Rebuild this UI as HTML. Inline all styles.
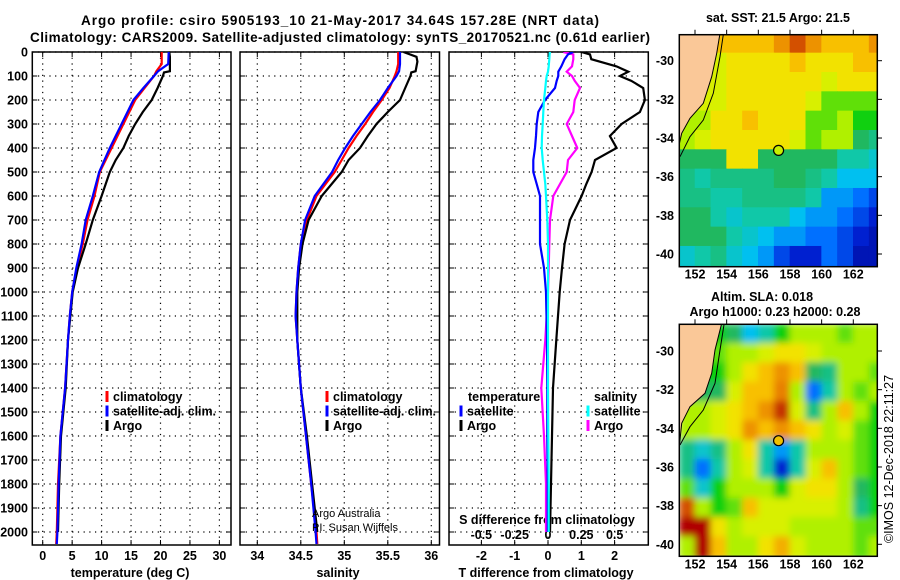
<!DOCTYPE html>
<html><head><meta charset="utf-8"><style>
html,body{margin:0;padding:0;background:#fff;}
svg{display:block;font-family:"Liberation Sans",sans-serif;font-weight:bold;}
</style></head><body>
<svg id="c" width="900" height="580" viewBox="0 0 900 580">
<defs>
<clipPath id="cp1"><rect x="32.3" y="52" width="198.7" height="493"/></clipPath>
<clipPath id="cp2"><rect x="240" y="52" width="199.5" height="493"/></clipPath>
<clipPath id="cp3"><rect x="449" y="52" width="199.3" height="493"/></clipPath>
<clipPath id="cpm1"><rect x="679.3" y="34.7" width="198" height="232"/></clipPath>
<clipPath id="cpm2"><rect x="679.3" y="324.3" width="198" height="232.4"/></clipPath>
<filter id="blur" x="0" y="0" width="1" height="1"><feGaussianBlur stdDeviation="3.5" edgeMode="duplicate"/></filter>
</defs>
<text x="340" y="25" text-anchor="middle" font-size="13.5" textLength="518">Argo profile: csiro 5905193_10 21-May-2017 34.64S 157.28E (NRT data)</text>
<text x="340" y="42" text-anchor="middle" font-size="13.5" textLength="620">Climatology: CARS2009. Satellite-adjusted climatology: synTS_20170521.nc (0.61d earlier)</text>
<g id="g"></g>
</svg>
<script>
// ---------- profile data ----------
const depths=[0,50,80,100,150,200,250,300,350,400,450,500,600,700,800,900,1000,1100,1200,1400,1600,1800,2000,2050];
const tempClim=[20.2,20.2,19.3,18.9,17.3,15.7,14.7,13.7,12.7,11.7,10.7,9.7,8.8,7.6,6.8,5.8,5.0,4.6,4.3,3.8,3.0,2.6,2.4,2.3];
const tempSat=[21.4,21.3,19.6,18.9,17.1,15.4,14.4,13.4,12.4,11.4,10.5,9.6,8.5,7.3,6.6,5.7,5.0,4.6,4.3,3.8,3.0,2.7,2.5,2.4];
const argoDepths=[0,20,40,80,85,100,150,200,250,300,350,400,450,500,600,700,800,900,1000,1200,1400,1600,1800,2000];
const tempArgo=[21.5,21.6,21.6,21.6,20.6,20.4,19.5,18.5,17.0,15.7,14.6,13.7,12.4,11.4,10.0,8.5,7.3,6.0,5.1,4.3,3.9,3.1,2.8,2.6];
const salClim=[35.62,35.62,35.6,35.58,35.52,35.43,35.33,35.24,35.14,35.05,34.97,34.89,34.68,34.57,34.50,34.47,34.45,34.44,34.46,34.50,34.56,34.62,34.68,34.69];
const salSat=[35.64,35.64,35.63,35.6,35.5,35.41,35.30,35.20,35.10,35.01,34.93,34.86,34.66,34.55,34.50,34.47,34.45,34.44,34.46,34.50,34.56,34.62,34.67,34.68];
const salArgo=[35.68,35.83,35.84,35.82,35.77,35.76,35.70,35.64,35.50,35.37,35.27,35.18,35.05,34.97,34.74,34.59,34.52,34.48,34.46,34.46,34.50,34.57,34.63,34.69];
const diffDepths=[0,10,30,60,82,100,120,150,200,250,300,350,400,450,500,550,600,700,800,900,1000,1200,1400,1600,1800,2000];
const dTArgo=[1.0,1.26,1.3,2.06,2.41,2.16,2.5,2.86,2.91,2.76,2.21,1.86,2.06,1.41,1.31,1.15,1.01,0.66,0.5,0.42,0.35,0.25,0.15,0.12,0.09,0.06];
const dTSat=[0.75,0.6,0.5,0.4,0.31,0.31,0.26,0.21,-0.09,-0.29,-0.34,-0.36,-0.39,-0.44,-0.44,-0.34,-0.24,-0.24,-0.24,-0.12,-0.06,-0.03,-0.02,-0.02,-0.01,-0.01];
const dSSat=[0.015,0.012,0.01,0.005,0,-0.01,-0.015,-0.02,-0.03,-0.035,-0.04,-0.045,-0.047,-0.04,-0.03,-0.02,-0.015,-0.005,0,0,0,0,0,0.002,0.005,0.005];
const dSArgo=[0.115,0.19,0.19,0.18,0.14,0.18,0.2,0.24,0.20,0.19,0.14,0.18,0.22,0.15,0.14,0.09,0.04,0.015,0.01,0.005,0,-0.02,-0.05,-0.03,-0.015,-0.015];
// tick labels
const depthTicks=[0,100,200,300,400,500,600,700,800,900,1000,1100,1200,1300,1400,1500,1600,1700,1800,1900,2000];
const tempTicks=[0,5,10,15,20,25,30];
const salTicks=[34,34.5,35,35.5,36];
const dTTicks=[-2,-1,0,1,2];
const dSTicks=[-0.5,-0.25,0,0.25,0.5];
const dSTickLabels=["-0.5","-0.25","0","0.25","0.5"];
const lonTicks=[152,154,156,158,160,162];
const latTicks=[-30,-32,-34,-36,-38,-40];
// ---------- map data (1-degree cells, rows from -28.6S southward, cols from 151E) ; -1 = land ----------
const sstGrid=[
[-1,-1,-1,8.5,8.5,8.5,9,9.5,9,8.5,8.5,8.5,9],
[-1,-1,7.5,8,8,8,8,8.5,8,8,8,8.5,8.5],
[-1,-1,7.5,8,8,8,8,8,8,7.5,8,8,8],
[-1,-1,7.5,8,8,8,8,8,7.5,6.5,6.5,6.5,6.5],
[-1,7,8,8,8.5,8,8,8,6.5,6.5,7,6,6],
[7,7.5,8,8,8,8,8,7.5,6.5,7,7,5.5,5],
[5.5,5.5,5.5,8,8,5.5,5.5,5.5,5.5,5.5,4.5,4.5,4],
[5,4.5,5,5,5,5,5.5,5.5,5,4.5,3.5,3.5,3.5],
[5,5,4.5,4.5,5,5,5,5,4.5,3,3,2.5,2],
[5.5,5.5,4.5,4,4.5,4.5,4.5,3.5,3,3,2.5,2,1.5],
[5.5,5.5,5.5,4.5,4,3.5,3,3,2.5,2.5,2,1.5,1],
[4,4.5,5,4,3.5,3,2,1.5,1.5,2.5,2,1,1]];
const slaGrid=[
[-1,-1,6,5.5,3.5,4.5,6,7,7,7,6.5,7,7],
[-1,-1,6.5,7,7,7.5,8,8,7.5,7,7,7,7],
[-1,-1,6,7,8,8.5,9,8.5,5.5,5,7,7,6.5],
[-1,-1,5.5,7.5,8.5,8.5,9.2,7,2.5,4.5,7,6.5,7],
[-1,7,7.5,8,8.5,9,9.7,7.5,5,7,8.5,7,6],
[7,7,7.5,8,9,8.5,9,8.5,8,7,7.5,6.5,6],
[5,4,5,7,8,4.5,3,4.5,7,7,7,6.5,6],
[5,2.5,4.5,7,7.5,4.5,1.5,4.5,7.5,8.5,7,6.5,6],
[6.5,4,6,7,7,7,6,7.5,8,8,7,5.5,6],
[9.5,7,6,6.5,8.5,7.5,7.5,7.5,7.5,7.5,7,5,6],
[10,10,8,7,7.5,7.5,7.5,7,7,7,7,6.5,6.5],
[7,10,8.5,7,7,8,8.7,7.5,7,7,7,6.5,7]];
const floatLon=157.28, floatLat=-34.64;

const NS='http://www.w3.org/2000/svg';
const G=document.getElementById('g');
function mk(tag,attrs,parent){const e=document.createElementNS(NS,tag);for(const k in attrs)e.setAttribute(k,attrs[k]);(parent||G).appendChild(e);return e;}
function txt(x,y,s,size,anchor,parent){const t=mk('text',{x:x,y:y,'font-size':size,'text-anchor':anchor||'start'},parent);t.textContent=s;return t;}

const yD=d=>52+d*0.24;
const xT=t=>42.7+t*5.89;
const xS=s=>257.3+(s-34)*87;
const xdT=t=>548+t*33.3;
const xdS=s=>548+s*133.3;
const panels=[{x0:32.3,x1:231,clip:'cp1'},{x0:240,x1:439.5,clip:'cp2'},{x0:449,x1:648.3,clip:'cp3'}];
const Y0=52,Y1=545;

panels.forEach((p,i)=>{
  const grp=mk('g',{});
  
  
  const vt=i==0?tempTicks.map(xT):i==1?salTicks.map(xS):dTTicks.map(xdT);
  vt.forEach(x=>{mk('line',{x1:x,x2:x,y1:Y0,y2:Y1,stroke:'#000','stroke-width':1.2,'stroke-dasharray':'1.2 4.5'},grp);
    mk('line',{x1:x,x2:x,y1:Y1,y2:Y1-5,stroke:'#000'},grp);mk('line',{x1:x,x2:x,y1:Y0,y2:Y0+5,stroke:'#000'},grp);});
  depthTicks.forEach(d=>{const y=yD(d);mk('line',{x1:p.x0,x2:p.x1,y1:y,y2:y,stroke:'#000','stroke-width':1.2,'stroke-dasharray':'1.2 4.5'},grp);
    mk('line',{x1:p.x0,x2:p.x0+5,y1:y,y2:y,stroke:'#000'},grp);mk('line',{x1:p.x1,x2:p.x1-5,y1:y,y2:y,stroke:'#000'},grp);});
  mk('rect',{x:p.x0,y:Y0,width:p.x1-p.x0,height:Y1-Y0,fill:'none',stroke:'#000','stroke-width':1.5},grp);
});
depthTicks.forEach(d=>{const t=txt(28,yD(d)+4.5,String(d),12.5,'end');
  
  });
tempTicks.forEach(v=>{const t=txt(xT(v),560,String(v),12.5,'middle');
  
  });
salTicks.forEach(v=>{const t=txt(xS(v),560,String(v),12.5,'middle');
  
  });
dTTicks.forEach(v=>{const t=txt(xdT(v),560,String(v),12.5,'middle');
  
  });
dSTicks.forEach((v,i)=>{const t=txt(xdS(v),539,dSTickLabels[i],12.5,'middle');
  
  });
let t;
t=txt(130,577,'temperature (deg C)',12.5,'middle');


t=txt(338,577,'salinity',12.5,'middle');


t=txt(546,577,'T difference from climatology',12.5,'middle');


t=txt(547,524,'S difference from climatology',12.5,'middle');



function line(dep,vals,xf,color,clip,name){
  const pts=dep.map((d,i)=>xf(vals[i]).toFixed(1)+','+yD(d).toFixed(1)).join(' ');
  const e=mk('polyline',{points:pts,fill:'none',stroke:color,'stroke-width':2.2,'clip-path':'url(#'+clip+')'});
  
  
}
line(depths,tempClim,xT,'#f00','cp1','temperature-climatology-line');
line(argoDepths,tempArgo,xT,'#000','cp1','temperature-argo-line');
line(depths,tempSat,xT,'#00f','cp1','temperature-satellite-line');
line(depths,salClim,xS,'#f00','cp2','salinity-climatology-line');
line(argoDepths,salArgo,xS,'#000','cp2','salinity-argo-line');
line(depths,salSat,xS,'#00f','cp2','salinity-satellite-line');
line(diffDepths,dTArgo,xdT,'#000','cp3','t-diff-argo-line');
line(diffDepths,dSArgo,xdS,'#f0f','cp3','s-diff-argo-line');
line(diffDepths,dTSat,xdT,'#00f','cp3','t-diff-satellite-line');
line(diffDepths,dSSat,xdS,'#0ff','cp3','s-diff-satellite-line');

function legend(x,y,color,label,name){
  const g=mk('g',{});
  
  
  mk('rect',{x:x-1.5,y:y-10,width:3,height:11,fill:color},g);
  const t=txt(x+6,y,label,12.5,'start',g);
  if(label.indexOf('satellite-adj')==0)t.setAttribute('textLength','103');
}
[[107,'#f00','climatology'],[107,'#00f','satellite-adj. clim.'],[107,'#000','Argo']].forEach((r,i)=>legend(r[0],401+i*14.5,r[1],r[2],'temperature-legend-entry'));
[[327,'#f00','climatology'],[327,'#00f','satellite-adj. clim.'],[327,'#000','Argo']].forEach((r,i)=>legend(r[0],401+i*14.5,r[1],r[2],'salinity-legend-entry'));
t=txt(468,401,'temperature',12.5);


t=txt(594,401,'salinity',12.5);


legend(461,415.5,'#00f','satellite','t-diff-legend-entry');
legend(461,430,'#000','Argo','t-diff-legend-entry');
legend(588,415.5,'#0ff','satellite','s-diff-legend-entry');
legend(588,430,'#f0f','Argo','s-diff-legend-entry');
t=txt(312,517,'Argo Australia',11);
t.setAttribute('font-weight','normal');


t=txt(312,531,'PI: Susan Wijffels',11);
t.setAttribute('font-weight','normal');



// ---------- maps ----------
const stops=[[0,[0,0,128]],[1.5,[0,32,208]],[2.5,[0,112,255]],[3.5,[0,192,240]],[4.5,[16,200,168]],[5.5,[32,184,96]],[6,[16,208,16]],[7,[176,240,0]],[7.8,[240,240,0]],[8.5,[248,192,0]],[9.2,[232,128,0]],[10,[176,0,0]]];
function cmap(v){
  if(v<=stops[0][0])return 'rgb('+stops[0][1]+')';
  for(let i=1;i<stops.length;i++){if(v<=stops[i][0]){const a=stops[i-1],b=stops[i],f=(v-a[0])/(b[0]-a[0]);
    return 'rgb('+a[1].map((c,k)=>Math.round(c+(b[1][k]-c)*f)).join(',')+')';}}
  return 'rgb('+stops[stops.length-1][1]+')';
}
const mx=lon=>695+(lon-152)*15.83;
function drawMap(grid,top,lat30,clip,blur,coast,contour,name,dotColor){
  const my=lat=>lat30+(-30-lat)*19.33;
  const g=mk('g',{'clip-path':'url(#'+clip+')'});
  
  
  const cells=mk('g',blur?{filter:'url(#blur)'}:{},g);
  grid.forEach((row,r)=>row.forEach((v,c)=>{
    const vv=v<0?(row.find(z=>z>=0)):v;
    const rc=mk('rect',{x:mx(151+c)-0.3,y:my(-28.6-r)-0.3,width:15.83+0.6,height:19.33+(r==grid.length-1?4:0.6),fill:cmap(vv)},cells);
    
    
  }));
  mk('polygon',{points:coast,fill:'#fac898'},g);
  mk('polyline',{points:coast.split(' ').slice(1,-1).join(' '),fill:'none',stroke:'#000','stroke-width':1},g);
  mk('polyline',{points:contour,fill:'none',stroke:'#000','stroke-width':1},g);
  const dot=mk('circle',{cx:mx(floatLon),cy:my(floatLat),r:5,fill:dotColor,stroke:'#000','stroke-width':1.2});
  
  
  mk('rect',{x:679.3,y:top,width:198,height:232,fill:'none',stroke:'#000','stroke-width':1.5});
  lonTicks.forEach(l=>{mk('line',{x1:mx(l),x2:mx(l),y1:top,y2:top-5,stroke:'#000'});
    const t=txt(mx(l),top+232+12,String(l),12.5,'middle');
    
    });
  latTicks.forEach(l=>{mk('line',{x1:877.3,x2:882,y1:my(l),y2:my(l),stroke:'#000'});
    const t=txt(674,my(l)+4.5,String(l),12.5,'end');
    
    });
}
function pts(arr,ox,oy){return arr.map(p=>(ox+p[0]/3).toFixed(1)+','+(oy+p[1]/3).toFixed(1)).join(' ');}
const coast1=pts([[0,40],[150,40],[140,100],[125,170],[100,250],[60,295],[35,340],[28,372],[0,372]],670,20);
const cont1=pts([[160,44],[150,110],[130,220],[100,300],[60,350],[30,410]],670,20);
const coast2=pts([[0,100],[155,100],[135,180],[125,250],[105,310],[60,350],[35,400],[28,470],[0,470]],670,290);
const cont2=pts([[162,104],[150,180],[135,280],[100,360],[60,410],[30,465]],670,290);
drawMap(sstGrid,34.7,60.7,'cpm1',false,coast1,cont1,'sst-map','#c8f000');
drawMap(slaGrid,324.3,351,'cpm2',true,coast2,cont2,'sla-map','#f0c000');
t=txt(778,22,'sat. SST: 21.5 Argo: 21.5',12.5,'middle');


t=txt(762,301,'Altim. SLA: 0.018',12.5,'middle');


t=txt(775,316,'Argo h1000: 0.23 h2000: 0.28',12.5,'middle');


t=txt(0,0,'\u00A9IMOS 12-Dec-2018 22:11:27',12.5,'middle');
t.setAttribute('font-weight','normal');
t.setAttribute('transform','translate(893,459) rotate(-90)');


</script>
</body></html>
